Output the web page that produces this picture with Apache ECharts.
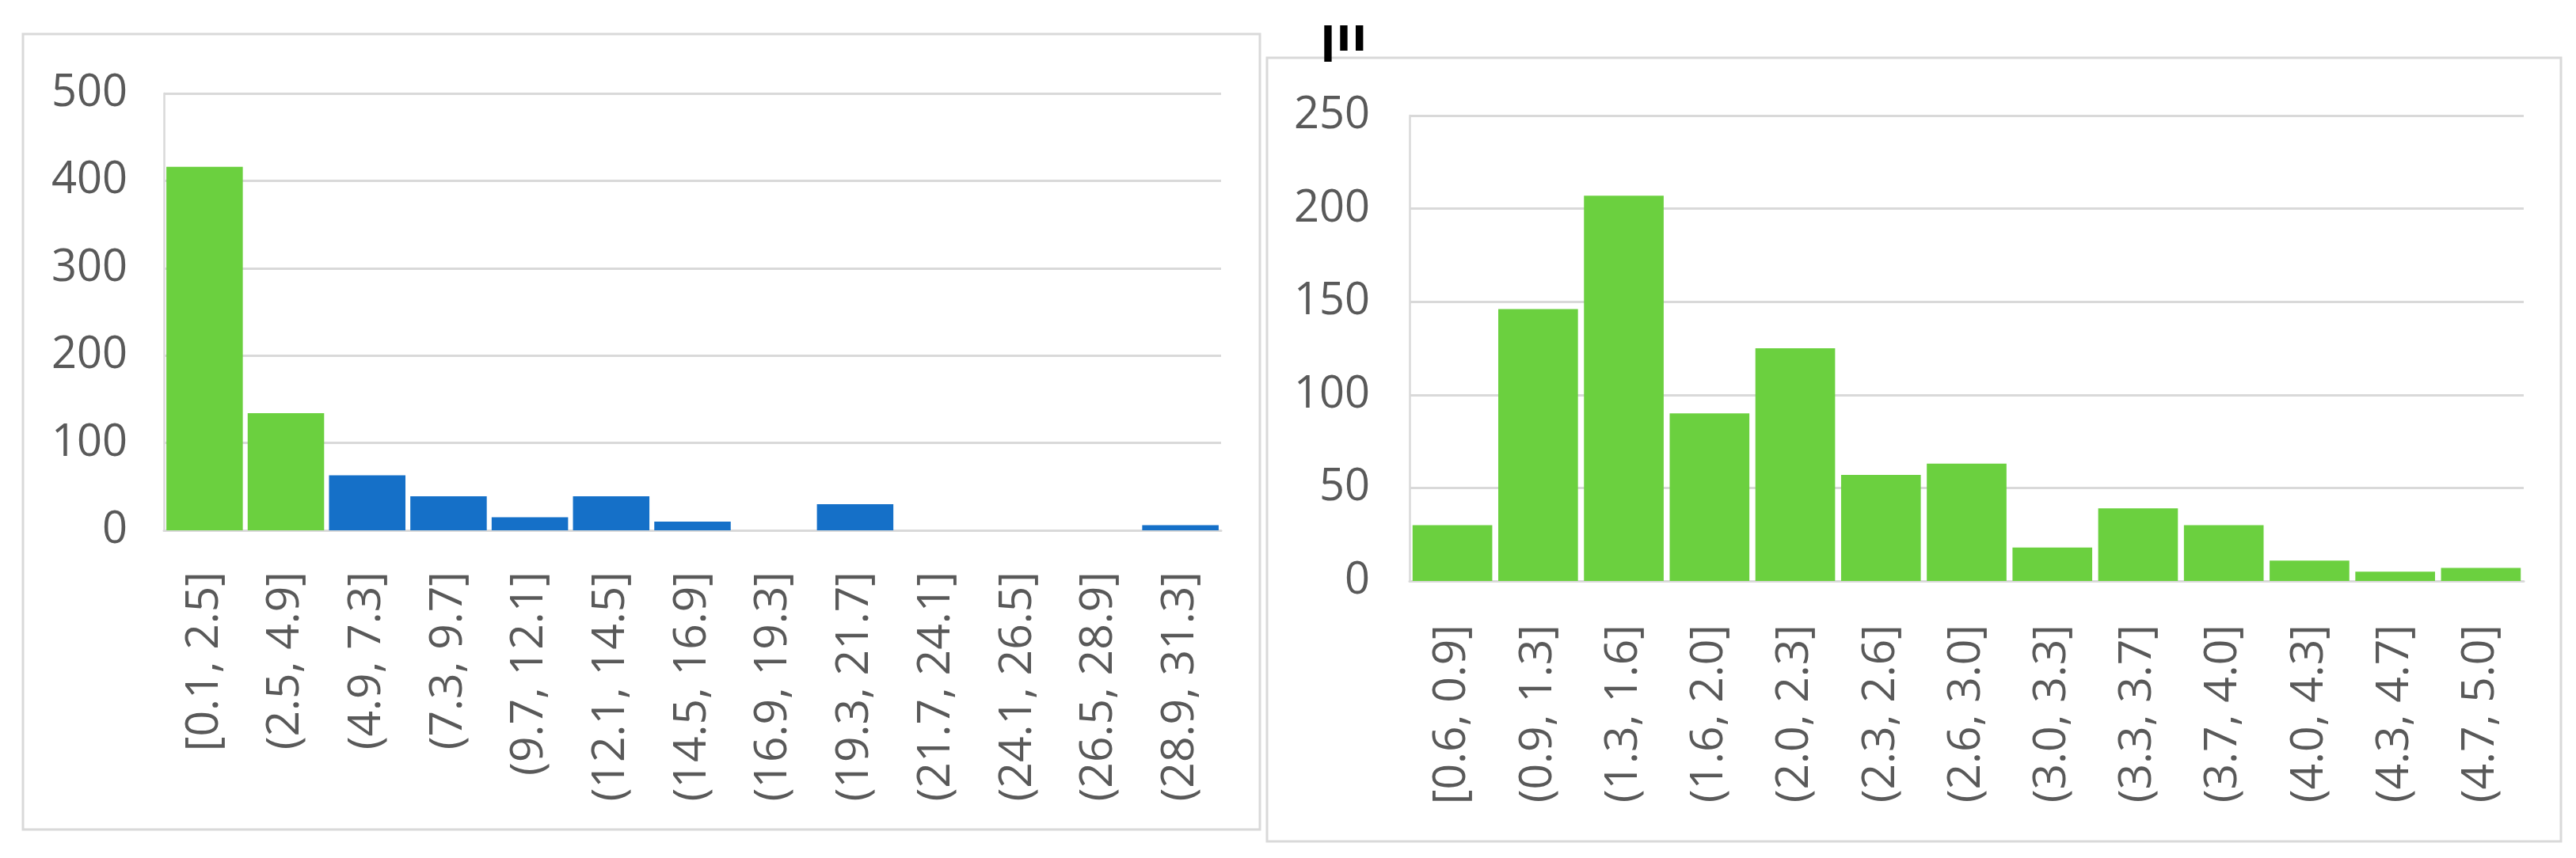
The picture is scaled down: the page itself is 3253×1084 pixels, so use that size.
<!DOCTYPE html>
<html>
<head>
<meta charset="utf-8">
<script src="https://cdn.jsdelivr.net/npm/echarts@6/dist/echarts.min.js"></script>
<style>
  html, body { margin: 0; padding: 0; background: #ffffff; }
  #chart { width: 3253px; height: 1084px; }
</style>
</head>
<body>
<div id="chart"></div>
<script>
// ---- data ----
const leftCategories = ['[0.1, 2.5]', '(2.5, 4.9]', '(4.9, 7.3]', '(7.3, 9.7]', '(9.7, 12.1]', '(12.1, 14.5]', '(14.5, 16.9]', '(16.9, 19.3]', '(19.3, 21.7]', '(21.7, 24.1]', '(24.1, 26.5]', '(26.5, 28.9]', '(28.9, 31.3]'];
const leftValues = [416, 134, 63, 39, 15, 39, 10, 0, 30, 0, 0, 0, 6];
const leftGreenCount = 2; // first bins drawn green, the rest blue
const leftTicks = { min: 0, max: 500, interval: 100 };

const rightCategories = ['[0.6, 0.9]', '(0.9, 1.3]', '(1.3, 1.6]', '(1.6, 2.0]', '(2.0, 2.3]', '(2.3, 2.6]', '(2.6, 3.0]', '(3.0, 3.3]', '(3.3, 3.7]', '(3.7, 4.0]', '(4.0, 4.3]', '(4.3, 4.7]', '(4.7, 5.0]'];
const rightValues = [30, 146, 207, 90, 125, 57, 63, 18, 39, 30, 11, 5, 7];
const rightTicks = { min: 0, max: 250, interval: 50 };

const rightTitle = 'וון';

// ---- styles ----
const GREEN = '#6BD03F';
const BLUE = '#1570C8';
const GRID = '#D9D9D9';
const TEXT = '#595959';
const FONT = '"Open Sans", "Noto Sans", sans-serif';

const chart = echarts.init(document.getElementById('chart'), null, { renderer: 'canvas' });

function yAxis(gridIndex, ticks, margin) {
  return {
    type: 'value', gridIndex: gridIndex,
    min: ticks.min, max: ticks.max, interval: ticks.interval,
    axisLine: { show: true, lineStyle: { color: GRID, width: 2.5 } },
    axisTick: { show: false },
    splitLine: { show: true, lineStyle: { color: GRID, width: 3 } },
    axisLabel: { color: TEXT, fontSize: 56, fontFamily: FONT, margin: margin }
  };
}
function xAxis(gridIndex, cats, margin) {
  return {
    type: 'category', gridIndex: gridIndex, data: cats,
    axisLine: { show: true, lineStyle: { color: GRID, width: 3 } },
    axisTick: { show: false },
    axisLabel: { color: TEXT, fontSize: 57, fontFamily: FONT, rotate: 90, interval: 0, margin: margin }
  };
}

chart.setOption({
  animation: false,
  backgroundColor: '#ffffff',
  grid: [
    { left: 207, top: 118, width: 1335, height: 552 },
    { left: 1780, top: 146, width: 1407, height: 588 }
  ],
  xAxis: [ xAxis(0, leftCategories, 52), xAxis(1, rightCategories, 55) ],
  yAxis: [ yAxis(0, leftTicks, 46), yAxis(1, rightTicks, 50) ],
  graphic: [
    { type: 'rect', shape: { x: 29, y: 43, width: 1562, height: 1005 },
      style: { fill: 'none', stroke: GRID, lineWidth: 3 }, z: -10 },
    { type: 'rect', shape: { x: 1600, y: 73, width: 1634, height: 990 },
      style: { fill: 'none', stroke: GRID, lineWidth: 3 }, z: -10 },
    { type: 'text', left: 1667, top: 20,
      style: { text: rightTitle, fill: '#000000', fontSize: 58, fontWeight: 'bold', fontFamily: '"DejaVu Sans", "Liberation Sans", sans-serif' } }
  ],
  series: [
    {
      type: 'bar', xAxisIndex: 0, yAxisIndex: 0,
      barCategoryGap: '6%',
      data: leftValues.map((v, i) => ({ value: v, itemStyle: { color: i < leftGreenCount ? GREEN : BLUE } })),
      itemStyle: { borderWidth: 0 }
    },
    {
      type: 'bar', xAxisIndex: 1, yAxisIndex: 1,
      barCategoryGap: '7%',
      data: rightValues,
      itemStyle: { color: GREEN, borderWidth: 0 }
    }
  ]
});
</script>
</body>
</html>
